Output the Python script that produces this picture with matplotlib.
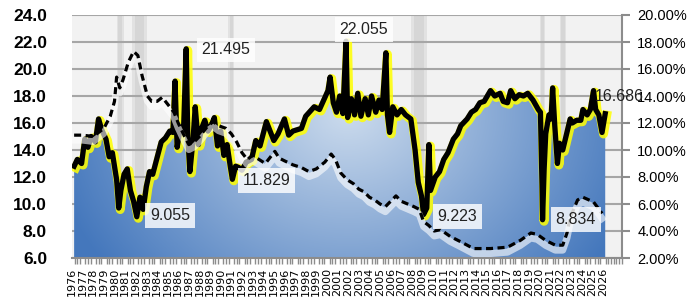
import numpy as np
import matplotlib
matplotlib.use("Agg")
import matplotlib.pyplot as plt
from matplotlib.transforms import offset_copy

# vehicle sales, millions (left axis)
sales_year = [1976.2, 1976.5, 1976.9, 1977.2, 1977.5, 1977.8, 1978.2, 1978.5, 1978.8, 1979.2,
              1979.5, 1979.8, 1980.2, 1980.4, 1980.6, 1980.9, 1981.2, 1981.5, 1981.8, 1982.1,
              1982.4, 1982.7, 1983.0, 1983.3, 1983.6, 1984.0, 1984.4, 1984.8, 1985.2, 1985.5,
              1985.7, 1985.9, 1986.2, 1986.5, 1986.75, 1986.9, 1987.1, 1987.4, 1987.6, 1987.9,
              1988.2, 1988.5, 1988.8, 1989.1, 1989.4, 1989.7, 1990.0, 1990.3, 1990.6, 1990.9,
              1991.1, 1991.4, 1991.7, 1992.0, 1992.4, 1992.9, 1993.3, 1993.7, 1994.3, 1994.7,
              1995.0, 1995.4, 1996.0, 1996.4, 1996.8, 1997.6, 1998.0, 1998.8, 1999.3, 1999.7,
              2000.1, 2000.3, 2000.6, 2000.9, 2001.2, 2001.5, 2001.8, 2001.95, 2002.3, 2002.6,
              2002.9, 2003.2, 2003.6, 2003.9, 2004.2, 2004.6, 2004.9, 2005.2, 2005.55, 2005.7,
              2005.9, 2006.2, 2006.6, 2007.0, 2007.4, 2007.9, 2008.3, 2008.6, 2008.9, 2009.1,
              2009.4, 2009.6, 2009.75, 2010.2, 2010.6, 2011.0, 2011.4, 2011.9, 2012.3, 2012.6,
              2013.2, 2013.6, 2014.0, 2014.4, 2014.8, 2015.4, 2015.8, 2016.3, 2016.6, 2017.0,
              2017.3, 2017.7, 2018.1, 2018.5, 2018.9, 2019.4, 2019.9, 2020.1, 2020.25, 2020.3,
              2020.45, 2020.6, 2020.9, 2021.1, 2021.25, 2021.45, 2021.7, 2021.9, 2022.2, 2022.5,
              2022.9, 2023.1, 2023.5, 2023.9, 2024.1, 2024.5, 2024.8, 2025.1, 2025.3, 2025.6,
              2025.9, 2026.2]
sales = [12.8, 13.3, 13.0, 14.8, 14.2, 15.0, 14.6, 16.3, 15.5, 14.8,
         13.5, 13.8, 11.8, 9.7, 11.0, 12.2, 12.6, 11.0, 10.2, 9.055,
         10.5, 9.6, 11.3, 12.4, 12.2, 13.4, 14.6, 14.9, 15.4, 15.3,
         19.1, 14.2, 15.7, 15.4, 21.495, 15.0, 12.4, 14.8, 17.2, 14.4,
         15.6, 16.2, 15.4, 15.8, 16.4, 14.3, 15.4, 13.6, 14.4, 12.8,
         11.829, 12.8, 12.7, 12.5, 13.1, 13.3, 14.7, 14.3, 16.1, 15.3,
         14.7, 15.2, 16.3, 15.1, 15.4, 15.6, 16.5, 17.2, 17.0, 17.7,
         18.4, 19.4, 17.5, 16.8, 18.0, 16.7, 22.055, 16.4, 17.8, 16.6,
         18.2, 16.5, 17.8, 16.6, 18.0, 16.8, 17.7, 17.0, 21.2, 16.6,
         15.3, 17.2, 16.6, 17.0, 16.6, 16.3, 14.0, 11.6, 10.6, 9.223,
         9.7, 14.4, 11.0, 12.0, 12.4, 13.3, 13.8, 14.8, 15.2, 15.8,
         16.3, 16.8, 17.0, 17.5, 17.6, 18.4, 18.0, 18.2, 17.6, 17.5,
         18.4, 17.8, 18.1, 18.0, 18.2, 17.7, 17.0, 16.8, 11.4, 8.834,
         12.6, 15.2, 16.6, 16.3, 18.6, 15.8, 13.0, 14.5, 14.0, 15.0,
         16.3, 16.0, 16.2, 16.2, 17.0, 16.6, 17.0, 18.4, 17.0, 16.6,
         15.3, 16.686]

# rate, percent (right axis)
rate_year = [1976.2, 1977.0, 1978.0, 1979.0, 1979.6, 1980.0, 1980.2, 1980.5, 1980.8, 1981.3,
             1981.8, 1982.2, 1982.6, 1983.1, 1983.5, 1984.0, 1984.5, 1985.0, 1985.6, 1986.0,
             1986.6, 1987.0, 1987.5, 1988.0, 1988.8, 1989.3, 1989.8, 1990.5, 1991.0, 1991.5,
             1992.0, 1992.5, 1993.0, 1993.6, 1994.2, 1994.8, 1995.1, 1995.5, 1996.0, 1996.8,
             1997.6, 1998.3, 1999.0, 1999.8, 2000.4, 2000.8, 2001.3, 2001.9, 2002.5, 2003.0,
             2003.5, 2004.0, 2004.5, 2005.0, 2005.5, 2006.0, 2006.5, 2007.0, 2007.6, 2008.2,
             2008.7, 2009.1, 2009.6, 2010.1, 2010.7, 2011.6, 2012.6, 2013.8, 2015.4, 2017.0,
             2018.2, 2019.2, 2019.8, 2020.6, 2021.5, 2022.2, 2022.6, 2022.9, 2023.6, 2024.1,
             2025.1, 2025.9]
rate = [11.1, 11.1, 11.0, 11.6, 12.5, 13.6, 15.4, 14.6, 15.2, 16.5,
        17.3, 17.0, 15.5, 14.0, 13.6, 13.6, 13.9, 13.4, 12.8, 12.0,
        11.0, 10.4, 10.6, 11.0, 11.8, 12.1, 11.8, 11.6, 11.2, 10.6,
        9.8, 9.3, 9.6, 9.3, 9.0, 9.6, 9.9, 9.4, 9.2, 8.9,
        8.7, 8.4, 8.6, 9.1, 9.7, 9.3, 8.3, 7.8, 7.5, 7.1,
        6.9, 6.5, 6.3, 6.0, 5.8, 6.2, 6.6, 6.2, 6.0, 5.8,
        5.6, 4.7, 4.4, 4.0, 4.1, 3.6, 3.2, 2.7, 2.7, 2.8,
        3.3, 3.85, 3.75, 3.3, 2.95, 2.95, 3.85, 5.0, 6.3, 6.5,
        6.15, 5.3]

# shaded periods
band_start = [1980.22, 1981.63, 1990.73, 2007.9, 2020.09, 2021.97]
band_end = [1980.88, 1983.04, 1991.29, 2009.45, 2020.56, 2022.53]

# labelled points: value and label offset (pixels)
label_vals = ['21.495', '22.055', '9.055', '11.829', '9.223', '8.834', '16.686']
label_off = [(40, -1), (18, 12), (33, 1), (34, -1), (34, -2), (33, 0), (14, 17)]

years = list(range(1976, 2027))

fig = plt.figure(figsize=(6.91, 3.03), dpi=100)
ax = fig.add_axes([72 / 691, 45 / 303, 550 / 691, 243 / 303])
ax.set_facecolor('#f2f2f2')
ax.set_xlim(1976.19, 2027.78)
ax.set_ylim(6, 24)
ax.set_axisbelow(True)

for s, e in zip(band_start, band_end):
    w = e - s
    ax.axvspan(s, e, color='#e2e2e2', lw=0, zorder=0.3)
    ax.axvspan(s + w * 0.2, e - w * 0.2, color='#d6d6d6', lw=0, zorder=0.31)

ax.yaxis.grid(True, color='#a6a6a6', lw=1.5)

# gradient filled area
poly = ax.fill_between(sales_year, 6, sales, color='none', lw=0, zorder=2)
H, W = 200, 400
yy, xx = np.mgrid[0:H, 0:W]
xf = xx / (W - 1)
yf = yy / (H - 1)
d = np.clip(np.sqrt(((xf - 0.5) / 0.55) ** 2 + ((yf - 0.6) / 1.05) ** 2), 0, 1)
light = np.array([0.80, 0.86, 0.93])
dark = np.array([0.27, 0.47, 0.74])
img = light[None, None, :] * (1 - d[..., None]) + dark[None, None, :] * d[..., None]
im = ax.imshow(img, extent=[1976.19, 2027.78, 6, 24], origin='lower', aspect='auto', zorder=2)
im.set_clip_path(poly.get_paths()[0], ax.transData)

tr_y = offset_copy(ax.transData, fig=fig, x=1.5, y=-1.5, units='dots')
ax.plot(sales_year, sales, color='#ffff00', lw=6.5, alpha=0.85, transform=tr_y, zorder=3,
        solid_joinstyle='round')
ax.plot(sales_year, sales, color='black', lw=3.8, zorder=4, solid_joinstyle='round')

ax.set_xticks(years)
ax.set_xticklabels([str(y) for y in years], rotation=90, fontsize=8, va='top')
ax.set_xticks(np.arange(1976.25, 2027.8, 0.25), minor=True)
ax.tick_params(axis='x', which='major', length=0, pad=7)
ax.tick_params(axis='x', which='minor', length=4, width=1, color='#8c8c8c')
ax.set_yticks(np.arange(6, 24.1, 2))
ax.set_yticklabels([f'{v:.1f}' for v in np.arange(6, 24.1, 2)], fontsize=12.5,
                   fontweight='bold', family='Liberation Sans')
ax.tick_params(axis='y', length=0, pad=18)
for side in ['left', 'top', 'right']:
    ax.spines[side].set_visible(False)
ax.spines['bottom'].set_color('#8c8c8c')
ax.spines['bottom'].set_linewidth(1.5)

ax2 = ax.twinx()
ax2.set_ylim(2, 20)
tr_w = offset_copy(ax2.transData, fig=fig, x=0, y=-5, units='dots')
ax2.plot(rate_year, rate, color='white', lw=5, alpha=0.6, transform=tr_w, zorder=2)
ax2.plot(rate_year, rate, color='black', lw=2.3, linestyle=(0, (2.2, 1.4)), zorder=3)
ax2.set_yticks(np.arange(2, 20.1, 2))
ax2.set_yticklabels([f'{v:.2f}%' for v in np.arange(2, 20.1, 2)], fontsize=10.5,
                    family='Liberation Sans')
ax2.tick_params(axis='y', length=6, width=1.5, color='#8c8c8c', pad=5)
for side in ['left', 'top', 'bottom']:
    ax2.spines[side].set_visible(False)
ax2.spines['right'].set_color('#8c8c8c')
ax2.spines['right'].set_linewidth(1.5)

for txt, off in zip(label_vals, label_off):
    v = float(txt)
    i = min(range(len(sales)), key=lambda k: abs(sales[k] - v))
    box = None
    if txt != '16.686':
        box = dict(boxstyle='square,pad=0.3', fc='white', ec='none', alpha=0.82)
    ax2.annotate(txt, xy=(sales_year[i], sales[i]), xycoords=ax.transData,
                 xytext=off, textcoords='offset pixels', ha='center', va='center',
                 fontsize=11.5, family='Liberation Sans', color='#222222', bbox=box,
                 annotation_clip=False, zorder=6)

fig.savefig('out.png', dpi=100)
